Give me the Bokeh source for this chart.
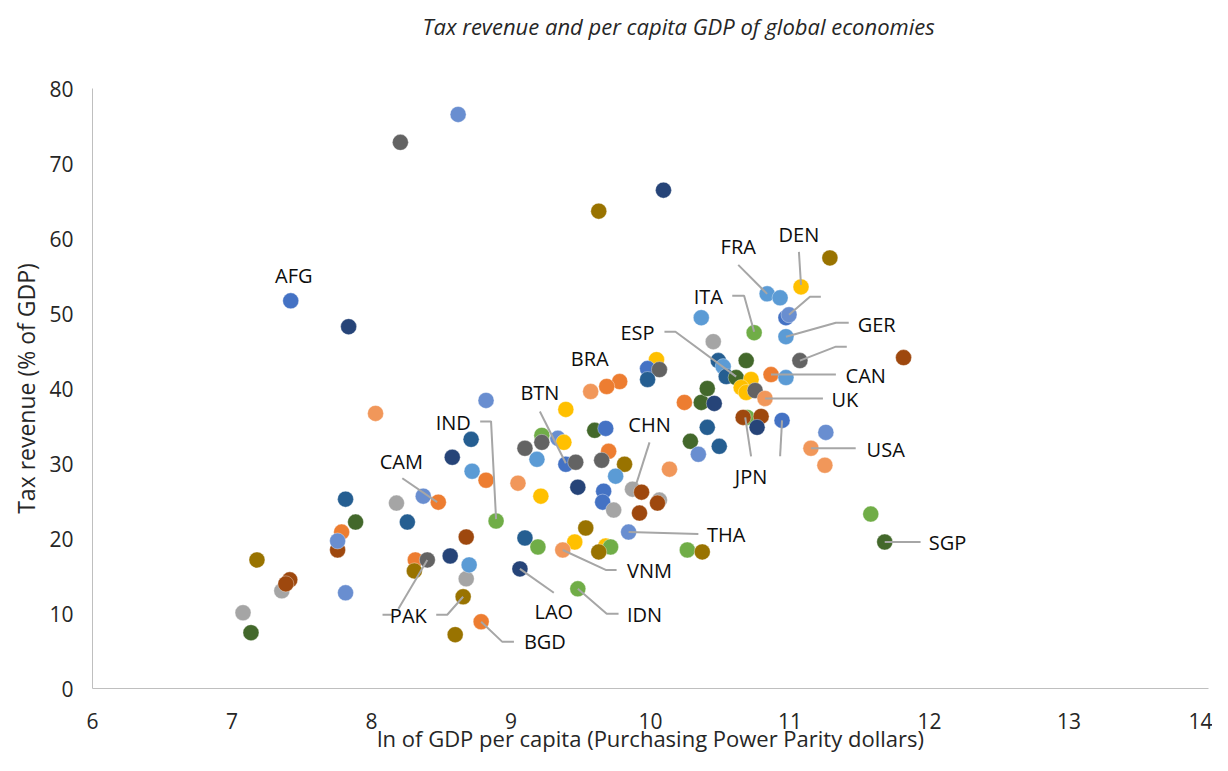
from bokeh.plotting import figure
from bokeh.models import ColumnDataSource, Range1d, FixedTicker, Title
from bokeh.embed import file_html
from bokeh.resources import INLINE
from bokeh.core.properties import value

# ---- data: ln of GDP per capita (PPP $) vs tax revenue (% of GDP) ----
gdp_ln = [
    8.621, 8.207, 10.093, 9.629, 7.421, 7.836, 11.286, 11.079, 10.836, 10.929,
    10.971, 10.993, 10.364, 10.743, 10.971, 10.450, 11.071, 11.814, 10.686, 10.486,
    10.521, 10.543, 10.614, 10.721, 10.650, 10.686, 10.750, 10.821, 10.864, 10.971,
    10.043, 9.979, 10.064, 9.979, 9.779, 9.686, 9.571, 8.821, 9.393, 10.243,
    10.364, 10.457, 10.407, 9.600, 9.679, 9.221, 9.336, 9.379, 9.221, 9.100,
    9.186, 9.393, 9.464, 9.700, 9.650, 9.814, 9.750, 10.136, 10.286, 10.343,
    10.407, 10.493, 10.693, 10.664, 10.793, 10.764, 10.943, 11.150, 11.257, 11.250,
    11.579, 11.679, 10.264, 10.371, 8.714, 8.579, 8.721, 8.821, 9.050, 9.214,
    9.479, 9.664, 9.657, 9.736, 9.871, 9.936, 10.064, 10.050, 9.921, 9.843,
    8.893, 8.679, 9.536, 9.100, 9.193, 9.457, 9.371, 9.679, 9.714, 9.629,
    9.064, 9.479, 8.786, 8.600, 8.657, 8.679, 8.700, 8.564, 8.029, 8.371,
    8.479, 8.179, 7.814, 7.886, 8.257, 7.786, 7.757, 7.757, 8.314, 8.400,
    8.307, 7.179, 7.357, 7.414, 7.386, 7.814, 7.079, 7.136,
]
tax_rev = [
    76.54, 72.82, 66.45, 63.65, 51.69, 48.24, 57.41, 53.55, 52.62, 52.09,
    49.44, 49.83, 49.44, 47.44, 46.91, 46.25, 43.72, 44.12, 43.72, 43.72,
    42.92, 41.59, 41.46, 41.20, 40.13, 39.47, 39.73, 38.67, 41.86, 41.46,
    43.85, 42.66, 42.52, 41.20, 40.93, 40.27, 39.60, 38.41, 37.21, 38.14,
    38.14, 38.01, 40.00, 34.42, 34.68, 33.75, 33.36, 32.82, 32.82, 32.03,
    30.56, 29.90, 30.17, 31.63, 30.43, 29.90, 28.31, 29.24, 32.96, 31.23,
    34.82, 32.29, 36.15, 36.15, 36.28, 34.82, 35.75, 32.03, 34.15, 29.77,
    23.26, 19.53, 18.47, 18.21, 33.22, 30.83, 28.97, 27.77, 27.38, 25.65,
    26.84, 26.31, 24.85, 23.79, 26.58, 26.18, 25.12, 24.72, 23.39, 20.86,
    22.33, 20.20, 21.40, 20.07, 18.87, 19.53, 18.47, 19.00, 18.87, 18.21,
    15.95, 13.29, 8.90, 7.18, 12.23, 14.62, 16.48, 17.67, 36.68, 25.65,
    24.85, 24.72, 25.25, 22.19, 22.19, 20.86, 18.47, 19.67, 17.14, 17.14,
    15.68, 17.14, 13.02, 14.49, 13.95, 12.76, 10.10, 7.44,
]
# series colour key of each point (Office palette)
series_key = [
    "LB2", "DG", "NV", "DGo", "B", "NV", "DGo", "Y", "LB", "LB",
    "B", "LB2", "LB", "GR", "LB", "G", "DG", "BR", "DGr", "DB",
    "LB", "DB", "DGr", "Y", "Y", "Y", "DG", "LO", "O", "LB",
    "Y", "B", "DG", "DB", "O", "O", "LO", "LB2", "Y", "O",
    "DGr", "NV", "DGr", "DGr", "B", "GR", "LB2", "Y", "DG", "DG",
    "LB", "B", "DG", "O", "DG", "DGo", "LB", "LO", "DGr", "LB2",
    "DB", "DB", "GR", "BR", "BR", "NV", "B", "LO", "LB2", "LO",
    "GR", "DGr", "GR", "DGo", "DB", "NV", "LB", "O", "LO", "Y",
    "NV", "B", "B", "G", "G", "BR", "G", "BR", "BR", "LB2",
    "GR", "BR", "DGo", "DB", "GR", "Y", "LO", "Y", "GR", "DGo",
    "NV", "GR", "O", "DGo", "DGo", "G", "LB", "NV", "LO", "LB2",
    "O", "G", "DB", "DGr", "DB", "O", "BR", "LB2", "O", "DG",
    "DGo", "DGo", "G", "BR", "BR", "LB2", "G", "DGr",
]
palette = {
    "B": "#4472C4", "O": "#ED7D31", "G": "#A5A5A5", "Y": "#FFC000",
    "LB": "#5B9BD5", "GR": "#70AD47", "NV": "#264478", "BR": "#9E480E",
    "DG": "#636363", "DGo": "#997300", "DB": "#255E91", "DGr": "#43682B",
    "LB2": "#698ED0", "LO": "#F1975A",
}

# country labels (annotation positions in data units)
label_text = ["AFG", "DEN", "FRA", "ITA", "GER", "ESP", "CAN", "UK", "BRA", "BTN",
              "CHN", "IND", "CAM", "USA", "JPN", "THA", "SGP", "VNM", "LAO", "IDN",
              "BGD", "PAK"]
label_x = [7.443, 11.064, 10.629, 10.414, 11.621, 9.907, 11.543, 11.393, 9.564, 9.207,
           9.993, 8.586, 8.214, 11.686, 10.721, 10.543, 12.129, 9.993, 9.307, 9.957,
           9.243, 8.264]
label_y = [55.02, 60.60, 58.87, 52.23, 48.50, 47.44, 41.73, 38.54, 43.99, 39.47,
           35.22, 35.48, 30.30, 31.89, 28.31, 20.47, 19.53, 15.68, 10.23, 9.83,
           6.25, 9.70]

# leader lines (data units)
leader_x = [
    [11.064, 11.079], [10.629, 10.836], [11.221, 11.143, 10.993],
    [10.586, 10.671, 10.743], [11.421, 11.329, 10.971], [11.407, 11.329, 11.071],
    [10.100, 10.179, 10.614], [11.329, 10.864], [11.236, 10.821],
    [9.207, 9.393], [9.993, 9.893], [8.779, 8.857, 8.893], [8.221, 8.471],
    [11.471, 11.150], [10.721, 10.679], [10.929, 10.943], [10.343, 9.843],
    [11.936, 11.679], [9.757, 9.679, 9.371], [9.307, 9.064], [9.771, 9.686, 9.479],
    [9.021, 8.936, 8.786], [8.079, 8.150], [8.193, 8.400], [8.464, 8.543, 8.657],
]
leader_y = [
    [58.21, 53.82], [56.48, 52.62], [52.23, 52.23, 49.83],
    [52.36, 52.36, 47.57], [48.77, 48.77, 46.91], [45.58, 45.58, 43.72],
    [47.57, 47.57, 41.59], [41.86, 41.86], [38.67, 38.67],
    [36.94, 30.03], [32.82, 26.98], [35.61, 35.61, 22.59], [28.04, 24.85],
    [32.03, 32.03], [30.96, 36.15], [30.96, 35.75], [20.60, 20.86],
    [19.53, 19.53], [15.81, 15.81, 18.47], [12.76, 15.95], [9.97, 9.97, 13.29],
    [6.25, 6.25, 8.90], [9.83, 9.83], [10.63, 17.14], [9.83, 9.83, 12.23],
]

x_ticks = [6, 7, 8, 9, 10, 11, 12, 13, 14]
y_ticks = [0, 10, 20, 30, 40, 50, 60, 70, 80]

FONT = "Open Sans"

p = figure(width=1212, height=755, output_backend="svg", toolbar_location=None,
           x_range=Range1d(6, 14), y_range=Range1d(0, 80),
           min_border_left=92, min_border_right=4, min_border_top=88,
           min_border_bottom=65)
p.outline_line_color = None
p.xgrid.visible = False
p.ygrid.visible = False
p.background_fill_color = "white"
p.border_fill_color = "white"

for ax in (p.xaxis[0], p.yaxis[0]):
    ax.axis_line_color = "#BFBFBF"
    ax.axis_line_width = 1
    ax.major_tick_line_color = None
    ax.minor_tick_line_color = None
    ax.major_label_text_font = FONT
    ax.major_label_text_font_size = "21px"
    ax.major_label_text_color = "#262626"
    ax.axis_label_text_font = FONT
    ax.axis_label_text_font_style = "normal"
    ax.axis_label_text_color = "#262626"

p.xaxis.axis_label_text_font_size = "22px"
p.yaxis.axis_label_text_font_size = "23px"
p.xaxis.ticker = FixedTicker(ticks=x_ticks)
p.yaxis.ticker = FixedTicker(ticks=y_ticks)
p.xaxis.major_label_standoff = 18
p.yaxis.major_label_standoff = 13
p.xaxis.axis_label = "ln of GDP per capita (Purchasing Power Parity dollars)"
p.yaxis.axis_label = "Tax revenue (% of GDP)"
p.xaxis.axis_label_standoff = -9
p.yaxis.axis_label_standoff = 4

src = ColumnDataSource(dict(x=gdp_ln, y=tax_rev,
                            c=[palette[k] for k in series_key]))
p.scatter("x", "y", source=src, size=16, fill_color="c", line_color="white",
          line_width=0.6, line_alpha=0.6)

p.multi_line(leader_x, leader_y, line_color="#A6A6A6", line_width=2)

lsrc = ColumnDataSource(dict(x=label_x, y=label_y, t=label_text))
p.text("x", "y", text="t", source=lsrc, text_font=value(FONT),
       text_font_size="20px", text_align="center", text_baseline="middle",
       text_color="#0D0D0D")

# spacer between the frame and the subtitle
p.add_layout(Title(text=" ", text_font=FONT, text_font_size="26px", standoff=10),
             "above")
p.add_layout(Title(text="Tax revenue and per capita GDP of global economies",
                   text_font=FONT, text_font_style="italic", text_font_size="22px",
                   text_color="#262626", align="left", offset=330, standoff=0),
             "above")

open("out.html", "w").write(file_html(p, INLINE))
